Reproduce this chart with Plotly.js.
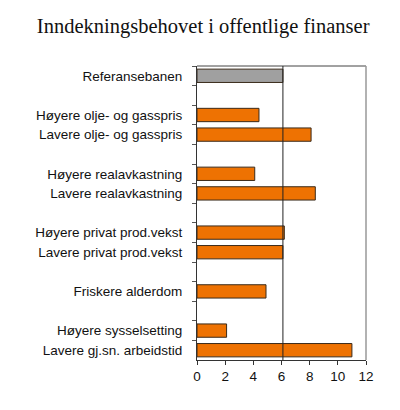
<!DOCTYPE html>
<html>
<head>
<meta charset="utf-8">
<script src="https://cdn.plot.ly/plotly-3.0.1.min.js"></script>
<style>
  html, body { margin: 0; padding: 0; background: #fff; }
  #chart { width: 400px; height: 410px; }
</style>
</head>
<body>
<div id="chart"></div>
<script>
// categories top to bottom, blank entries are the gaps between groups
const categories = [
    'Referansebanen', ' ',
    'Høyere olje- og gasspris', 'Lavere olje- og gasspris', '  ',
    'Høyere realavkastning', 'Lavere realavkastning', '   ',
    'Høyere privat prod.vekst', 'Lavere privat prod.vekst', '    ',
    'Friskere alderdom', '     ',
    'Høyere sysselsetting', 'Lavere gj.sn. arbeidstid'
];
const values = [6.1, null, 4.4, 8.1, null, 4.1, 8.4, null, 6.2, 6.1, null, 4.9, null, 2.1, 11.0];
const xTicks = [0, 2, 4, 6, 8, 10, 12];

const refValue = values[0];
const barColors = categories.map((c, i) => i === 0 ? '#a0a0a0' : '#ee7202');

const trace = {
    type: 'bar',
    orientation: 'h',
    y: categories,
    x: values,
    marker: {
        color: barColors,
        line: { color: '#3a2a1a', width: 1 }
    },
    hoverinfo: 'x+y'
};

const layout = {
    width: 400,
    height: 410,
    margin: { l: 197, r: 34, t: 66, b: 50 },
    paper_bgcolor: '#fff',
    plot_bgcolor: '#fff',
    showlegend: false,
    bargap: 0.32,
    title: {
        text: 'Inndekningsbehovet i offentlige finanser',
        font: { family: 'Liberation Serif, Times New Roman, serif', size: 20.5, color: '#111' },
        x: 0.508, xanchor: 'center',
        y: 0.937, yanchor: 'middle'
    },
    xaxis: {
        range: [0, 12],
        tickvals: xTicks,
        ticks: 'outside',
        ticklen: 4,
        tickcolor: '#333',
        showgrid: false,
        zeroline: false,
        showline: true,
        linecolor: '#333',
        linewidth: 1,
        tickfont: { family: 'Liberation Sans, Arial, sans-serif', size: 13.5, color: '#111' },
        fixedrange: true
    },
    yaxis: {
        type: 'category',
        categoryorder: 'array',
        categoryarray: categories,
        autorange: 'reversed',
        tickson: 'boundaries',
        ticks: 'outside',
        ticklen: 4,
        tickcolor: '#555',
        showgrid: false,
        showline: true,
        linecolor: '#333',
        linewidth: 1,
        ticklabelstandoff: 11,
        tickfont: { family: 'Liberation Sans, Arial, sans-serif', size: 13.5, color: '#111' },
        fixedrange: true
    },
    shapes: [
        // top border
        { type: 'line', xref: 'paper', yref: 'paper', x0: 0, x1: 1, y0: 1, y1: 1,
          line: { color: '#444', width: 1 } },
        // right border
        { type: 'line', xref: 'paper', yref: 'paper', x0: 1, x1: 1, y0: 0, y1: 1,
          line: { color: '#999', width: 1.5 } },
        // reference line
        { type: 'line', xref: 'x', yref: 'paper', x0: refValue, x1: refValue, y0: 0, y1: 1,
          line: { color: '#222', width: 1 } }
    ]
};

Plotly.newPlot('chart', [trace], layout, { displayModeBar: false, staticPlot: true });
</script>
</body>
</html>
